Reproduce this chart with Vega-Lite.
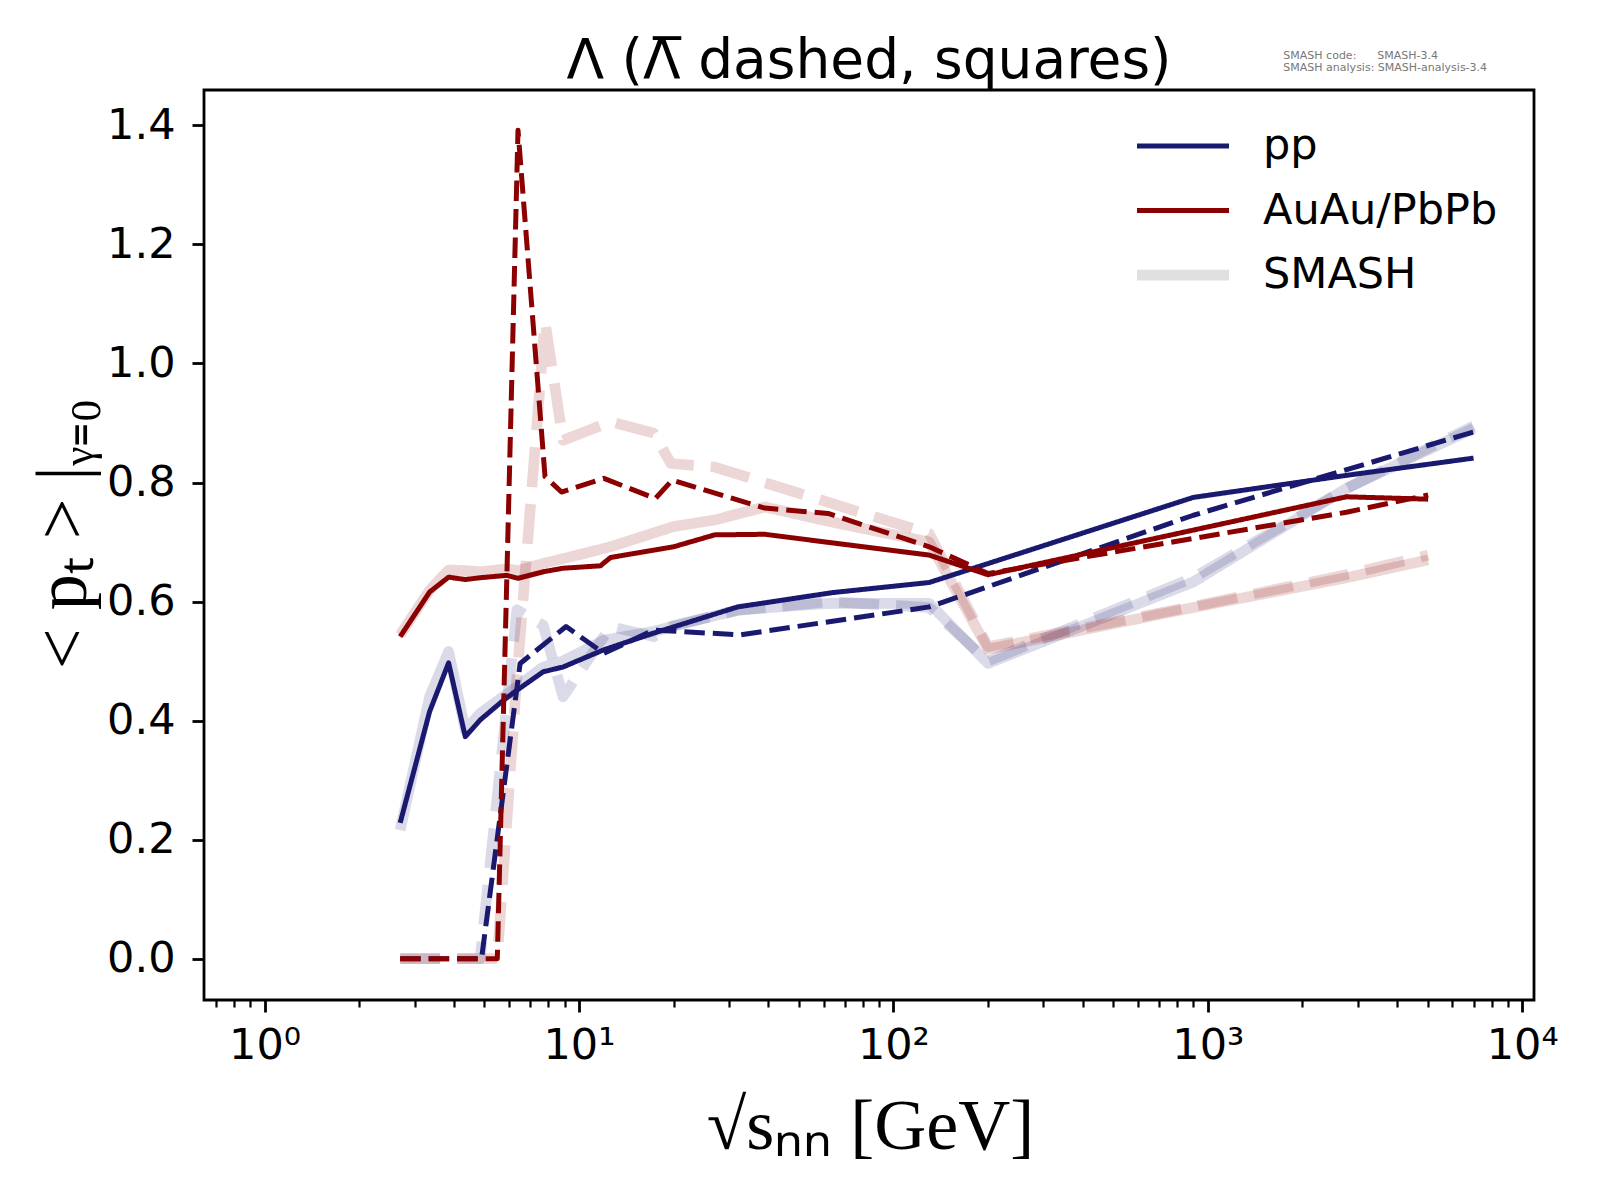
{
  "$schema": "https://vega.github.io/schema/vega-lite/v6.json",
  "width": 1330,
  "height": 910,
  "autosize": {"type": "none"},
  "padding": {"left": 204, "top": 90, "right": 66, "bottom": 200},
  "background": "white",
  "datasets": {
    "lines": [
      {"s": 2.7, "pt": 0.228, "grp": "pp", "dash": "solid"},
      {"s": 3.35, "pt": 0.415, "grp": "pp", "dash": "solid"},
      {"s": 3.85, "pt": 0.497, "grp": "pp", "dash": "solid"},
      {"s": 4.35, "pt": 0.373, "grp": "pp", "dash": "solid"},
      {"s": 4.85, "pt": 0.401, "grp": "pp", "dash": "solid"},
      {"s": 5.75, "pt": 0.434, "grp": "pp", "dash": "solid"},
      {"s": 6.35, "pt": 0.451, "grp": "pp", "dash": "solid"},
      {"s": 7.7, "pt": 0.482, "grp": "pp", "dash": "solid"},
      {"s": 8.9, "pt": 0.490, "grp": "pp", "dash": "solid"},
      {"s": 12, "pt": 0.519, "grp": "pp", "dash": "solid"},
      {"s": 17.3, "pt": 0.547, "grp": "pp", "dash": "solid"},
      {"s": 32, "pt": 0.591, "grp": "pp", "dash": "solid"},
      {"s": 64, "pt": 0.615, "grp": "pp", "dash": "solid"},
      {"s": 130, "pt": 0.632, "grp": "pp", "dash": "solid"},
      {"s": 900, "pt": 0.775, "grp": "pp", "dash": "solid"},
      {"s": 2760, "pt": 0.812, "grp": "pp", "dash": "solid"},
      {"s": 7000, "pt": 0.841, "grp": "pp", "dash": "solid"},

      {"s": 2.7, "pt": 0, "grp": "pp", "dash": "dashed"},
      {"s": 3.35, "pt": 0, "grp": "pp", "dash": "dashed"},
      {"s": 3.85, "pt": 0, "grp": "pp", "dash": "dashed"},
      {"s": 4.35, "pt": 0, "grp": "pp", "dash": "dashed"},
      {"s": 4.9, "pt": 0, "grp": "pp", "dash": "dashed"},
      {"s": 6.5, "pt": 0.496, "grp": "pp", "dash": "dashed"},
      {"s": 9.1, "pt": 0.558, "grp": "pp", "dash": "dashed"},
      {"s": 12, "pt": 0.513, "grp": "pp", "dash": "dashed"},
      {"s": 17.3, "pt": 0.552, "grp": "pp", "dash": "dashed"},
      {"s": 32.6, "pt": 0.544, "grp": "pp", "dash": "dashed"},
      {"s": 130, "pt": 0.591, "grp": "pp", "dash": "dashed"},
      {"s": 200, "pt": 0.625, "grp": "pp", "dash": "dashed"},
      {"s": 900, "pt": 0.745, "grp": "pp", "dash": "dashed"},
      {"s": 7000, "pt": 0.885, "grp": "pp", "dash": "dashed"},

      {"s": 2.7, "pt": 0.541, "grp": "AuAu/PbPb", "dash": "solid"},
      {"s": 3.35, "pt": 0.616, "grp": "AuAu/PbPb", "dash": "solid"},
      {"s": 3.85, "pt": 0.641, "grp": "AuAu/PbPb", "dash": "solid"},
      {"s": 4.35, "pt": 0.637, "grp": "AuAu/PbPb", "dash": "solid"},
      {"s": 4.85, "pt": 0.640, "grp": "AuAu/PbPb", "dash": "solid"},
      {"s": 5.9, "pt": 0.644, "grp": "AuAu/PbPb", "dash": "solid"},
      {"s": 6.4, "pt": 0.639, "grp": "AuAu/PbPb", "dash": "solid"},
      {"s": 7.7, "pt": 0.650, "grp": "AuAu/PbPb", "dash": "solid"},
      {"s": 8.9, "pt": 0.656, "grp": "AuAu/PbPb", "dash": "solid"},
      {"s": 11.7, "pt": 0.660, "grp": "AuAu/PbPb", "dash": "solid"},
      {"s": 12.6, "pt": 0.674, "grp": "AuAu/PbPb", "dash": "solid"},
      {"s": 20, "pt": 0.692, "grp": "AuAu/PbPb", "dash": "solid"},
      {"s": 27, "pt": 0.712, "grp": "AuAu/PbPb", "dash": "solid"},
      {"s": 39, "pt": 0.713, "grp": "AuAu/PbPb", "dash": "solid"},
      {"s": 130, "pt": 0.678, "grp": "AuAu/PbPb", "dash": "solid"},
      {"s": 200, "pt": 0.645, "grp": "AuAu/PbPb", "dash": "solid"},
      {"s": 2760, "pt": 0.776, "grp": "AuAu/PbPb", "dash": "solid"},
      {"s": 5020, "pt": 0.772, "grp": "AuAu/PbPb", "dash": "solid"},

      {"s": 2.7, "pt": 0, "grp": "AuAu/PbPb", "dash": "dashed"},
      {"s": 3.35, "pt": 0, "grp": "AuAu/PbPb", "dash": "dashed"},
      {"s": 3.85, "pt": 0, "grp": "AuAu/PbPb", "dash": "dashed"},
      {"s": 4.35, "pt": 0, "grp": "AuAu/PbPb", "dash": "dashed"},
      {"s": 4.85, "pt": 0, "grp": "AuAu/PbPb", "dash": "dashed"},
      {"s": 5.5, "pt": 0, "grp": "AuAu/PbPb", "dash": "dashed"},
      {"s": 6.4, "pt": 1.392, "grp": "AuAu/PbPb", "dash": "dashed"},
      {"s": 7.8, "pt": 0.810, "grp": "AuAu/PbPb", "dash": "dashed"},
      {"s": 8.8, "pt": 0.784, "grp": "AuAu/PbPb", "dash": "dashed"},
      {"s": 12, "pt": 0.807, "grp": "AuAu/PbPb", "dash": "dashed"},
      {"s": 17.5, "pt": 0.773, "grp": "AuAu/PbPb", "dash": "dashed"},
      {"s": 19.8, "pt": 0.804, "grp": "AuAu/PbPb", "dash": "dashed"},
      {"s": 39, "pt": 0.757, "grp": "AuAu/PbPb", "dash": "dashed"},
      {"s": 62, "pt": 0.748, "grp": "AuAu/PbPb", "dash": "dashed"},
      {"s": 130, "pt": 0.692, "grp": "AuAu/PbPb", "dash": "dashed"},
      {"s": 200, "pt": 0.647, "grp": "AuAu/PbPb", "dash": "dashed"},
      {"s": 2760, "pt": 0.750, "grp": "AuAu/PbPb", "dash": "dashed"},
      {"s": 5020, "pt": 0.779, "grp": "AuAu/PbPb", "dash": "dashed"},

      {"s": 2.7, "pt": 0.216, "grp": "pp SMASH", "dash": "smash solid"},
      {"s": 3.35, "pt": 0.44, "grp": "pp SMASH", "dash": "smash solid"},
      {"s": 3.85, "pt": 0.516, "grp": "pp SMASH", "dash": "smash solid"},
      {"s": 4.35, "pt": 0.384, "grp": "pp SMASH", "dash": "smash solid"},
      {"s": 4.85, "pt": 0.412, "grp": "pp SMASH", "dash": "smash solid"},
      {"s": 6.35, "pt": 0.457, "grp": "pp SMASH", "dash": "smash solid"},
      {"s": 7.7, "pt": 0.49, "grp": "pp SMASH", "dash": "smash solid"},
      {"s": 8.9, "pt": 0.50, "grp": "pp SMASH", "dash": "smash solid"},
      {"s": 12, "pt": 0.535, "grp": "pp SMASH", "dash": "smash solid"},
      {"s": 17.3, "pt": 0.55, "grp": "pp SMASH", "dash": "smash solid"},
      {"s": 32, "pt": 0.586, "grp": "pp SMASH", "dash": "smash solid"},
      {"s": 62, "pt": 0.597, "grp": "pp SMASH", "dash": "smash solid"},
      {"s": 130, "pt": 0.597, "grp": "pp SMASH", "dash": "smash solid"},
      {"s": 200, "pt": 0.496, "grp": "pp SMASH", "dash": "smash solid"},
      {"s": 900, "pt": 0.633, "grp": "pp SMASH", "dash": "smash solid"},
      {"s": 2760, "pt": 0.79, "grp": "pp SMASH", "dash": "smash solid"},
      {"s": 7000, "pt": 0.891, "grp": "pp SMASH", "dash": "smash solid"},

      {"s": 2.7, "pt": 0, "grp": "pp SMASH", "dash": "smash dashed"},
      {"s": 3.35, "pt": 0, "grp": "pp SMASH", "dash": "smash dashed"},
      {"s": 3.85, "pt": 0, "grp": "pp SMASH", "dash": "smash dashed"},
      {"s": 4.35, "pt": 0, "grp": "pp SMASH", "dash": "smash dashed"},
      {"s": 4.85, "pt": 0, "grp": "pp SMASH", "dash": "smash dashed"},
      {"s": 6.35, "pt": 0.586, "grp": "pp SMASH", "dash": "smash dashed"},
      {"s": 7.7, "pt": 0.56, "grp": "pp SMASH", "dash": "smash dashed"},
      {"s": 8.9, "pt": 0.44, "grp": "pp SMASH", "dash": "smash dashed"},
      {"s": 12.6, "pt": 0.558, "grp": "pp SMASH", "dash": "smash dashed"},
      {"s": 17.3, "pt": 0.541, "grp": "pp SMASH", "dash": "smash dashed"},
      {"s": 20, "pt": 0.56, "grp": "pp SMASH", "dash": "smash dashed"},
      {"s": 32, "pt": 0.585, "grp": "pp SMASH", "dash": "smash dashed"},
      {"s": 62, "pt": 0.60, "grp": "pp SMASH", "dash": "smash dashed"},
      {"s": 130, "pt": 0.59, "grp": "pp SMASH", "dash": "smash dashed"},
      {"s": 200, "pt": 0.50, "grp": "pp SMASH", "dash": "smash dashed"},
      {"s": 900, "pt": 0.64, "grp": "pp SMASH", "dash": "smash dashed"},
      {"s": 2760, "pt": 0.79, "grp": "pp SMASH", "dash": "smash dashed"},
      {"s": 7000, "pt": 0.895, "grp": "pp SMASH", "dash": "smash dashed"},

      {"s": 2.7, "pt": 0.544, "grp": "AuAu SMASH", "dash": "smash solid"},
      {"s": 3.35, "pt": 0.619, "grp": "AuAu SMASH", "dash": "smash solid"},
      {"s": 3.85, "pt": 0.653, "grp": "AuAu SMASH", "dash": "smash solid"},
      {"s": 4.35, "pt": 0.652, "grp": "AuAu SMASH", "dash": "smash solid"},
      {"s": 4.85, "pt": 0.650, "grp": "AuAu SMASH", "dash": "smash solid"},
      {"s": 5.9, "pt": 0.655, "grp": "AuAu SMASH", "dash": "smash solid"},
      {"s": 6.4, "pt": 0.652, "grp": "AuAu SMASH", "dash": "smash solid"},
      {"s": 7.7, "pt": 0.664, "grp": "AuAu SMASH", "dash": "smash solid"},
      {"s": 8.9, "pt": 0.672, "grp": "AuAu SMASH", "dash": "smash solid"},
      {"s": 12.6, "pt": 0.692, "grp": "AuAu SMASH", "dash": "smash solid"},
      {"s": 20, "pt": 0.726, "grp": "AuAu SMASH", "dash": "smash solid"},
      {"s": 27, "pt": 0.737, "grp": "AuAu SMASH", "dash": "smash solid"},
      {"s": 39, "pt": 0.759, "grp": "AuAu SMASH", "dash": "smash solid"},
      {"s": 62, "pt": 0.735, "grp": "AuAu SMASH", "dash": "smash solid"},
      {"s": 130, "pt": 0.70, "grp": "AuAu SMASH", "dash": "smash solid"},
      {"s": 200, "pt": 0.52, "grp": "AuAu SMASH", "dash": "smash solid"},
      {"s": 900, "pt": 0.59, "grp": "AuAu SMASH", "dash": "smash solid"},
      {"s": 2760, "pt": 0.64, "grp": "AuAu SMASH", "dash": "smash solid"},
      {"s": 5020, "pt": 0.67, "grp": "AuAu SMASH", "dash": "smash solid"},

      {"s": 2.7, "pt": 0, "grp": "AuAu SMASH", "dash": "smash dashed"},
      {"s": 3.35, "pt": 0, "grp": "AuAu SMASH", "dash": "smash dashed"},
      {"s": 3.85, "pt": 0, "grp": "AuAu SMASH", "dash": "smash dashed"},
      {"s": 4.35, "pt": 0, "grp": "AuAu SMASH", "dash": "smash dashed"},
      {"s": 4.85, "pt": 0, "grp": "AuAu SMASH", "dash": "smash dashed"},
      {"s": 5.5, "pt": 0, "grp": "AuAu SMASH", "dash": "smash dashed"},
      {"s": 6.3, "pt": 0.45, "grp": "AuAu SMASH", "dash": "smash dashed"},
      {"s": 7.8, "pt": 1.07, "grp": "AuAu SMASH", "dash": "smash dashed"},
      {"s": 8.9, "pt": 0.871, "grp": "AuAu SMASH", "dash": "smash dashed"},
      {"s": 12.6, "pt": 0.902, "grp": "AuAu SMASH", "dash": "smash dashed"},
      {"s": 17.3, "pt": 0.883, "grp": "AuAu SMASH", "dash": "smash dashed"},
      {"s": 19.6, "pt": 0.832, "grp": "AuAu SMASH", "dash": "smash dashed"},
      {"s": 27, "pt": 0.826, "grp": "AuAu SMASH", "dash": "smash dashed"},
      {"s": 130, "pt": 0.714, "grp": "AuAu SMASH", "dash": "smash dashed"},
      {"s": 200, "pt": 0.524, "grp": "AuAu SMASH", "dash": "smash dashed"},
      {"s": 900, "pt": 0.592, "grp": "AuAu SMASH", "dash": "smash dashed"},
      {"s": 2760, "pt": 0.645, "grp": "AuAu SMASH", "dash": "smash dashed"},
      {"s": 5020, "pt": 0.678, "grp": "AuAu SMASH", "dash": "smash dashed"}
    ],
    "heading": [
      {"label": "Λ (Λ̅ dashed, squares)"}
    ],
    "notes": [
      {"note": "SMASH code:\u00a0\u00a0\u00a0\u00a0\u00a0\u00a0SMASH-3.4\nSMASH analysis: SMASH-analysis-3.4"}
    ]
  },
  "layer": [
    {
      "data": {"name": "lines"},
      "encoding": {
        "x": {
          "field": "s",
          "type": "quantitative",
          "scale": {"type": "log", "domain": [0.642, 10900], "nice": false},
          "axis": {
            "values": [0.7, 0.8, 0.9, 1, 2, 3, 4, 5, 6, 7, 8, 9, 10, 20, 30, 40, 50, 60, 70, 80, 90, 100, 200, 300, 400, 500, 600, 700, 800, 900, 1000, 2000, 3000, 4000, 5000, 6000, 7000, 8000, 9000, 10000],
            "labelExpr": "abs(log(datum.value)/LN10 - round(log(datum.value)/LN10)) < 0.001 ? '10' + ['⁰','¹','²','³','⁴'][round(log(datum.value)/LN10)] : ''",
            "labelOverlap": false,
            "labelFlush": false,
            "tickSize": {"condition": {"test": "abs(log(datum.value)/LN10 - round(log(datum.value)/LN10)) < 0.001", "value": 12}, "value": 7},
            "tickWidth": {"condition": {"test": "abs(log(datum.value)/LN10 - round(log(datum.value)/LN10)) < 0.001", "value": 2.8}, "value": 2.2},
            "title": "√sₙₙ [GeV]",
            "titleFontSize": 72,
            "titleX": 666,
            "titleY": 148,
            "titleAlign": "center",
            "titleBaseline": "alphabetic"
          }
        },
        "y": {
          "field": "pt",
          "type": "quantitative",
          "scale": {"domain": [-0.0695, 1.4595], "nice": false, "zero": false},
          "axis": {
            "values": [0, 0.2, 0.4, 0.6, 0.8, 1.0, 1.2, 1.4],
            "format": ".1f",
            "labelPadding": 17,
            "title": "< pₜ > |ᵧ₌₀",
            "titleFontSize": 72,
            "titleAngle": -90,
            "titleX": -141,
            "titleY": 443,
            "titleAlign": "center",
            "titleBaseline": "middle"
          }
        },
        "color": {
          "field": "grp",
          "type": "ordinal",
          "scale": {
            "domain": ["pp", "AuAu/PbPb", "SMASH", "pp SMASH", "AuAu SMASH"],
            "range": ["#191970", "#8b0000", "#e0e0e0", "rgba(25,25,112,0.16)", "rgba(139,0,0,0.16)"]
          },
          "legend": {"values": ["pp", "AuAu/PbPb", "SMASH"], "title": null}
        },
        "strokeWidth": {
          "field": "grp",
          "type": "ordinal",
          "scale": {
            "type": "ordinal",
            "domain": ["pp", "AuAu/PbPb", "SMASH", "pp SMASH", "AuAu SMASH"],
            "range": [5, 5, 10.7, 10.7, 10.7]
          },
          "legend": {"values": ["pp", "AuAu/PbPb", "SMASH"], "title": null}
        },
        "strokeDash": {
          "field": "dash",
          "type": "nominal",
          "scale": {
            "domain": ["solid", "dashed", "smash solid", "smash dashed"],
            "range": [[1, 0], [20.5, 8], [1, 0], [40, 17]]
          },
          "legend": null
        }
      },
      "layer": [
        {
          "transform": [{"filter": "datum.dash == 'smash solid' || datum.dash == 'smash dashed'"}],
          "mark": {"type": "line", "strokeCap": "butt", "strokeJoin": "round"}
        },
        {
          "transform": [{"filter": "datum.grp == 'pp'"}],
          "mark": {"type": "line", "strokeCap": "butt", "strokeJoin": "round"}
        },
        {
          "transform": [{"filter": "datum.grp == 'AuAu/PbPb'"}],
          "mark": {"type": "line", "strokeCap": "butt", "strokeJoin": "round"}
        }
      ]
    },
    {
      "data": {"name": "heading"},
      "mark": {
        "type": "text",
        "font": "DejaVu Sans",
        "fontSize": 55,
        "color": "black",
        "align": "center",
        "baseline": "alphabetic"
      },
      "encoding": {
        "x": {"datum": 83.65},
        "y": {"datum": 1.4797},
        "text": {"field": "label"}
      }
    },
    {
      "data": {"name": "notes"},
      "mark": {
        "type": "text",
        "font": "DejaVu Sans",
        "fontSize": 11,
        "color": "#777777",
        "align": "left",
        "baseline": "alphabetic",
        "lineBreak": "\n",
        "lineHeight": 12
      },
      "encoding": {
        "x": {"datum": 1739},
        "y": {"datum": 1.511},
        "text": {"field": "note"}
      }
    }
  ],
  "config": {
    "view": {"stroke": "black", "strokeWidth": 2.8},
    "axis": {
      "domain": false,
      "grid": false,
      "ticks": true,
      "tickColor": "black",
      "tickWidth": 2.8,
      "tickSize": 12,
      "labelFont": "DejaVu Sans",
      "labelFontSize": 43,
      "labelColor": "black",
      "labelPadding": 12,
      "titleFont": "Liberation Serif",
      "titleFontSize": 62,
      "titleFontWeight": "normal",
      "titleColor": "black"
    },
    "legend": {
      "orient": "none",
      "legendX": 957.5,
      "legendY": 34.5,
      "padding": 0,
      "rowPadding": 20.6,
      "symbolType": "M-4.6,0H4.6",
      "symbolSize": 400,
      "symbolOffset": 0,
      "labelOffset": 58.5,
      "labelLimit": 500,
      "labelFont": "DejaVu Sans",
      "labelFontSize": 43,
      "labelColor": "black"
    }
  }
}
